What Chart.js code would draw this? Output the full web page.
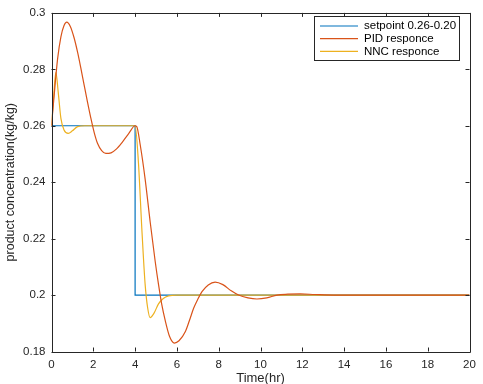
<!DOCTYPE html>
<html>
<head>
<meta charset="utf-8">
<script src="https://cdn.jsdelivr.net/npm/chart.js@4.4.1/dist/chart.umd.min.js"></script>
<style>
    body { margin: 0; background: #fff; }
    #wrap { width: 483px; height: 384px; }
</style>
</head>
<body>
<div id="wrap"><canvas id="chart" width="483" height="384"></canvas></div>
<script>
// setpoint step 0.26 -> 0.20 at t = 4 hr
const setpointTime = [0, 4, 4, 20];
const setpointValues = [0.26, 0.26, 0.20, 0.20];

// PID responce
const pidTime = [0, 0.1, 0.29, 0.45, 0.6, 0.73, 0.9, 1.08, 1.25, 1.4, 1.56, 1.72, 1.88, 2.05, 2.2, 2.4, 2.6, 2.85, 3.1, 3.4, 3.7, 4,
    4.08, 4.25, 4.48, 4.72, 4.96, 5.12, 5.28, 5.44, 5.65, 5.88, 6.1, 6.4, 6.6, 6.8, 7.0, 7.2, 7.5, 7.83, 8.2, 8.6, 8.95,
    9.4, 9.83, 10.3, 10.79, 11.3, 11.9, 12.6, 13.5, 20];
const pidValues = [0.26, 0.2685, 0.2836, 0.2915, 0.2955, 0.2967, 0.2952, 0.2912, 0.2860, 0.2806, 0.2745, 0.2685, 0.2628, 0.2574, 0.2538, 0.2512, 0.2502, 0.2504, 0.2517, 0.2543, 0.2573, 0.2600,
    0.2597, 0.2530, 0.2411, 0.2260, 0.2120, 0.2038, 0.1965, 0.1910, 0.1853, 0.1830, 0.1838, 0.1870, 0.1910, 0.1953, 0.1985, 0.2012, 0.2036, 0.2046, 0.2037, 0.2015, 0.2000,
    0.1990, 0.1986, 0.1990, 0.2000, 0.2003, 0.2004, 0.2002, 0.2000, 0.2000];

// NNC responce
const nncTime = [0, 0.1, 0.21, 0.32, 0.45, 0.6, 0.8, 1.0, 1.25, 1.6, 4,
    4.16, 4.32, 4.48, 4.6, 4.72, 4.9, 5.12, 5.35, 5.6, 6, 20];
const nncValues = [0.26, 0.270, 0.2789, 0.2720, 0.2626, 0.2585, 0.2573, 0.2582, 0.2597, 0.2600, 0.2600,
    0.2469, 0.2238, 0.2038, 0.1955, 0.1920, 0.1935, 0.1969, 0.1988, 0.1997, 0.2000, 0.2000];

const seriesNames = ['setpoint 0.26-0.20', 'PID responce', 'NNC responce'];
const seriesColors = ['#0072BD', '#D95319', '#EDB120'];

const xTitle = 'Time(hr)';
const yTitle = 'product concentration(kg/kg)';

const axisColor = '#262626';
const fontFamily = '"Liberation Sans", Arial, Helvetica, sans-serif';

const toPoints = (xs, ys) => xs.map((x, i) => ({ x: x, y: ys[i] }));

// box around the axes + ticks pointing inward, like matlab
const frameTicks = {
    id: 'frameTicks',
    afterDraw(chart) {
        const { ctx, chartArea: a, scales } = chart;
        const len = 4;
        ctx.save();
        ctx.strokeStyle = axisColor;
        ctx.lineWidth = 1;
        ctx.beginPath();
        ctx.rect(Math.round(a.left) + 0.5, Math.round(a.top) + 0.5, Math.round(a.right - a.left), Math.round(a.bottom - a.top));
        scales.x.ticks.forEach(t => {
            const px = Math.round(scales.x.getPixelForValue(t.value)) + 0.5;
            ctx.moveTo(px, a.bottom); ctx.lineTo(px, a.bottom - len);
            ctx.moveTo(px, a.top); ctx.lineTo(px, a.top + len);
        });
        scales.y.ticks.forEach(t => {
            const py = Math.round(scales.y.getPixelForValue(t.value)) + 0.5;
            ctx.moveTo(a.left, py); ctx.lineTo(a.left + len, py);
            ctx.moveTo(a.right, py); ctx.lineTo(a.right - len, py);
        });
        ctx.stroke();
        ctx.restore();
    }
};

// legend box inside the top right corner
const innerLegend = {
    id: 'innerLegend',
    afterDraw(chart) {
        const { ctx } = chart;
        const box = { x: 314.5, y: 16.5, w: 145, h: 44 };
        ctx.save();
        ctx.fillStyle = '#fff';
        ctx.fillRect(box.x, box.y, box.w, box.h);
        ctx.strokeStyle = axisColor;
        ctx.lineWidth = 1;
        ctx.strokeRect(box.x, box.y, box.w, box.h);
        ctx.font = '11.5px ' + fontFamily;
        ctx.textBaseline = 'middle';
        ctx.textAlign = 'left';
        seriesNames.forEach((name, i) => {
            const y = 26 + i * 12.7;
            ctx.strokeStyle = seriesColors[i];
            ctx.lineWidth = 1.2;
            ctx.beginPath();
            ctx.moveTo(320, y); ctx.lineTo(358, y);
            ctx.stroke();
            ctx.fillStyle = '#000';
            ctx.fillText(name, 364, y);
        });
        ctx.restore();
    }
};

const ctx = document.getElementById('chart').getContext('2d');

new Chart(ctx, {
    type: 'line',
    data: {
        datasets: [{
            label: seriesNames[0],
            data: toPoints(setpointTime, setpointValues),
            borderColor: seriesColors[0],
            borderWidth: 1.2,
            tension: 0,
            order: 3,
        }, {
            label: seriesNames[1],
            data: toPoints(pidTime, pidValues),
            borderColor: seriesColors[1],
            borderWidth: 1.2,
            cubicInterpolationMode: 'monotone',
            order: 1,
        }, {
            label: seriesNames[2],
            data: toPoints(nncTime, nncValues),
            borderColor: seriesColors[2],
            borderWidth: 1.2,
            cubicInterpolationMode: 'monotone',
            order: 2,
        }],
    },
    options: {
        responsive: false,
        animation: false,
        events: [],
        layout: {
            padding: { top: 8, right: 13.5, left: 0, bottom: 0 },
        },
        elements: {
            point: { radius: 0 },
        },
        plugins: {
            legend: { display: false },
            tooltip: { enabled: false },
        },
        scales: {
            x: {
                type: 'linear',
                min: 0,
                max: 20,
                afterFit: s => { s.height = 32.5; },
                grid: { display: false, drawTicks: false },
                border: { display: false },
                ticks: {
                    stepSize: 2,
                    padding: 6,
                    color: axisColor,
                    font: { family: fontFamily, size: 11.5 },
                },
                title: {
                    display: true,
                    text: xTitle,
                    color: axisColor,
                    padding: { top: 0, bottom: -2 },
                    font: { family: fontFamily, size: 13 },
                },
            },
            y: {
                min: 0.18,
                max: 0.3,
                afterFit: s => { s.width = 51.5; },
                grid: { display: false, drawTicks: false },
                border: { display: false },
                ticks: {
                    stepSize: 0.02,
                    padding: 6,
                    color: axisColor,
                    font: { family: fontFamily, size: 11.5 },
                    callback: v => parseFloat(v.toFixed(2)).toString(),
                },
                title: {
                    display: true,
                    text: yTitle,
                    color: axisColor,
                    padding: { top: 3, bottom: 0 },
                    font: { family: fontFamily, size: 12.5 },
                },
            },
        },
    },
    plugins: [frameTicks, innerLegend],
});
</script>
</body>
</html>
